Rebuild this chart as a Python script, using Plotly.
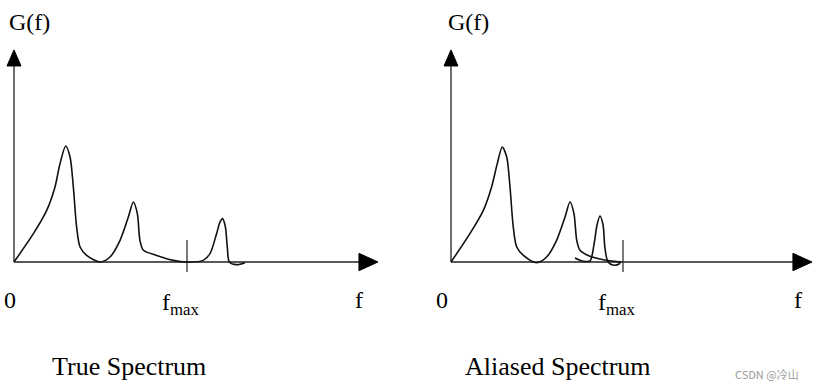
import plotly.graph_objects as go

# ---- data (frequency in units of f_max, amplitude in units of main peak) ----
true_f = [0, 0.112, 0.189, 0.237, 0.266, 0.299, 0.324, 0.343, 0.362, 0.382, 0.420, 0.497,
          0.555, 0.613, 0.661, 0.690, 0.713, 0.728, 0.748, 0.825, 0.921, 0.998,
          1.094, 1.133, 1.171, 1.191, 1.206, 1.222, 1.233, 1.245, 1.287, 1.335]
true_g = [0, 0.244, 0.445, 0.647, 0.848, 1.0, 0.905, 0.647, 0.302, 0.129, 0.057, 0,
          0.043, 0.187, 0.388, 0.517, 0.417, 0.187, 0.101, 0.057, 0.014, 0,
          0.014, 0.072, 0.244, 0.345, 0.374, 0.302, 0.129, 0, -0.023, -0.006]

alias_f = [0, 0.110, 0.188, 0.236, 0.269, 0.298, 0.324, 0.343, 0.362, 0.382, 0.421, 0.498,
           0.556, 0.614, 0.663, 0.692, 0.715, 0.731, 0.750, 0.808, 0.886, 0.983]
alias_g = [0, 0.244, 0.445, 0.647, 0.848, 0.991, 0.905, 0.647, 0.302, 0.129, 0.057, -0.006,
           0.043, 0.187, 0.388, 0.517, 0.417, 0.187, 0.101, 0.049, 0.020, 0]

folded_f = [0.721, 0.762, 0.808, 0.831, 0.849, 0.866, 0.884, 0.895, 0.913, 0.942, 0.977, 0.988]
folded_g = [0.034, 0.009, 0.009, 0.147, 0.319, 0.397, 0.319, 0.121, 0, -0.026, -0.017, 0.009]

f_max = 1.0
titles = ["True Spectrum", "Aliased Spectrum"]

# ---- layout geometry ----
W, H = 815, 389
y_range = [-1.0948, 2.2586]
x_ranges = [[-0.0809, 2.2746], [-0.2529, 2.1163]]
y_tip, y_base = 1.828, 1.690
x_tips = [2.104, 2.099]
x_bases = [1.994, 1.988]
half_w_f = 0.0405
half_h_g = 0.075
serif = "Liberation Serif, Times New Roman, serif"
ink = "#111111"

fig = go.Figure()

curves = [[(true_f, true_g)], [(alias_f, alias_g), (folded_f, folded_g)]]

for i in range(2):
    xa = "x" if i == 0 else "x2"
    ya = "y" if i == 0 else "y2"
    # axes lines
    fig.add_trace(go.Scatter(x=[0, 0], y=[0, y_base], xaxis=xa, yaxis=ya, mode="lines",
                             line=dict(color="#222", width=1.3), hoverinfo="skip"))
    fig.add_trace(go.Scatter(x=[0, x_bases[i]], y=[0, 0], xaxis=xa, yaxis=ya, mode="lines",
                             line=dict(color="#222", width=1.3), hoverinfo="skip"))
    # arrowheads
    fig.add_trace(go.Scatter(x=[-half_w_f, half_w_f, 0, -half_w_f],
                             y=[y_base, y_base, y_tip, y_base], xaxis=xa, yaxis=ya,
                             mode="lines", fill="toself", fillcolor="#000",
                             line=dict(color="#000", width=1), hoverinfo="skip"))
    fig.add_trace(go.Scatter(x=[x_bases[i], x_bases[i], x_tips[i], x_bases[i]],
                             y=[-half_h_g, half_h_g, 0, -half_h_g], xaxis=xa, yaxis=ya,
                             mode="lines", fill="toself", fillcolor="#000",
                             line=dict(color="#000", width=1), hoverinfo="skip"))
    # fmax tick
    fig.add_trace(go.Scatter(x=[f_max, f_max], y=[-0.086, 0.19], xaxis=xa, yaxis=ya,
                             mode="lines", line=dict(color="#222", width=1.2), hoverinfo="skip"))
    # spectrum curves
    for fx, gy in curves[i]:
        fig.add_trace(go.Scatter(x=fx, y=gy, xaxis=xa, yaxis=ya, mode="lines",
                                 line=dict(color=ink, width=1.6, shape="spline", smoothing=0.8),
                                 hoverinfo="skip"))

    # labels
    g_x = [0.092, 0.099][i]
    zero_x = [-0.023, -0.052][i]
    f_x = [1.994, 2.017][i]
    fmax_x = [0.968, 0.965][i]
    title_x = [0.665, 0.622][i]
    for txt, xx, yy, size in [("G(f)", g_x, 2.069, 24), ("0", zero_x, -0.328, 24),
                              ("f", f_x, -0.328, 24), ("f<sub>max</sub>", fmax_x, -0.36, 24),
                              (titles[i], title_x, -0.897, 26)]:
        fig.add_annotation(x=xx, y=yy, xref=xa, yref=ya, text=txt, showarrow=False,
                           font=dict(family=serif, size=size, color="#000"),
                           xanchor="center", yanchor="middle")

fig.add_annotation(x=0.941, y=0.039, xref="paper", yref="paper", text="CSDN @冷山",
                   showarrow=False, font=dict(family="Noto Sans CJK SC", size=11, color="#9a9a9a"),
                   xanchor="center", yanchor="middle")

axis_common = dict(visible=False, showgrid=False, zeroline=False, fixedrange=True)
fig.update_layout(
    width=W, height=H, margin=dict(l=0, r=0, t=0, b=0),
    paper_bgcolor="white", plot_bgcolor="white", showlegend=False,
    xaxis=dict(domain=[0, 0.5], range=x_ranges[0], anchor="y", **axis_common),
    xaxis2=dict(domain=[0.5, 1], range=x_ranges[1], anchor="y2", **axis_common),
    yaxis=dict(domain=[0, 1], range=y_range, anchor="x", **axis_common),
    yaxis2=dict(domain=[0, 1], range=y_range, anchor="x2", **axis_common),
)

fig.write_html("out.html", config={"displayModeBar": False},
               post_script="document.body.style.margin='0px';document.body.style.overflow='hidden';")
